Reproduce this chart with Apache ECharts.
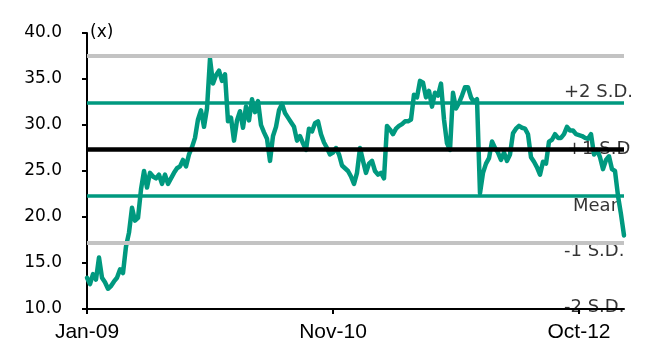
<!DOCTYPE html>
<html>
<head>
<meta charset="utf-8">
<script src="https://cdn.jsdelivr.net/npm/echarts@6/dist/echarts.min.js"></script>
<style>
  html, body { margin: 0; padding: 0; background: #fff; }
  #chart { width: 646px; height: 347px; }
</style>
</head>
<body>
<div id="chart"></div>
<script>
// Forward P/E multiple (x), sampled at regular intervals from Jan-09
const peValues = [
  13.4, 12.7, 13.8, 13.2, 15.6, 13.4, 12.9, 12.2, 12.5, 13.0,
  13.4, 14.3, 13.9, 16.8, 18.3, 21.0, 19.6, 19.9, 23.0, 25.0,
  23.2, 24.8, 24.4, 24.2, 24.6, 23.6, 24.6, 23.6, 24.2, 24.8,
  25.3, 25.5, 26.2, 25.5, 26.8, 27.6, 28.6, 30.6, 31.6, 29.8,
  31.8, 37.2, 34.5, 35.4, 35.9, 34.8, 35.5, 30.4, 30.8, 28.3,
  30.5, 31.5, 29.7, 32.0, 30.5, 32.8, 31.4, 32.6, 30.0, 29.2,
  28.5, 26.1, 28.8, 29.8, 31.6, 32.3, 31.3, 30.8, 30.3, 29.8,
  28.3, 28.8, 28.0, 27.3, 29.6, 29.3, 30.2, 30.4, 29.0, 28.1,
  27.5, 26.8, 27.0, 27.5, 26.8, 25.6, 25.3, 25.0, 24.4, 23.6,
  24.8, 27.5, 26.1, 24.8, 25.8, 26.1, 25.0, 24.6, 24.8, 24.2,
  29.9, 29.5, 29.0, 29.6, 29.9, 30.1, 30.4, 30.4, 30.6, 33.3,
  33.0, 34.8, 34.6, 33.0, 33.7, 32.0, 33.5, 33.2, 34.5, 30.6,
  28.0, 27.3, 33.5, 31.8, 32.4, 33.2, 34.1, 34.1, 33.0, 32.5,
  32.8, 22.6, 24.8, 25.8, 26.4, 28.2, 27.5, 27.0, 26.2, 27.0,
  26.1, 26.8, 29.1, 29.6, 29.9, 29.7, 29.6, 29.0, 26.5, 26.0,
  25.4, 24.6, 26.0, 25.8, 28.2, 28.4, 29.0, 28.6, 28.6, 29.0,
  29.8, 29.4, 29.4, 29.0, 28.9, 28.8, 28.6, 28.5, 29.0, 26.8,
  27.3, 26.5, 25.2, 26.2, 26.6, 25.2, 25.0, 22.3, 20.3, 18.0
];

// Period labels shown on the time axis and the periods they sit on
const xTickLabels = ['Jan-09', 'Nov-10', 'Oct-12'];
const xTickIndex = [0, 82, 164];

// Band levels: mean and standard-deviation lines
const grayLevels = [37.5, 17.2];
const tealLevels = [32.4, 22.3];
const meanLevel = [27.35];

// Band captions and where they are written
const sdNames = ['+2 S.D.', '+1 S.D', 'Mean', '-1 S.D.', '-2 S.D.'];
const sdLabelLevels = [33.6, 27.35, 21.2, 16.3, 10.2];
const sdLabelAt = [159, 160, 162, 159, 159];

const yTicks = { min: 10, max: 40, step: 5 };

const categories = peValues.map((_, i) => String(i));
const tickSet = new Set(xTickIndex);

const TEAL = '#00997f';
const GRAY = '#c3c3c3';

const chart = echarts.init(document.getElementById('chart'), null, { renderer: 'canvas' });

const lineMark = (v, color, width) => ({
  yAxis: v,
  lineStyle: { color: color, width: width, type: 'solid' }
});

chart.setOption({
  animation: false,
  backgroundColor: '#ffffff',
  grid: { left: 87, right: 22, top: 33, bottom: 38, containLabel: false },
  xAxis: {
    type: 'category',
    data: categories,
    boundaryGap: false,
    z: 10,
    axisLine: { lineStyle: { color: '#000', width: 2 } },
    axisTick: {
      show: true,
      length: 5,
      interval: (i) => tickSet.has(i),
      lineStyle: { color: '#000', width: 2 }
    },
    axisLabel: {
      interval: (i) => tickSet.has(i),
      formatter: (v, i) => {
        const k = xTickIndex.indexOf(i);
        return k >= 0 ? xTickLabels[k] : '';
      },
      margin: 13,
      color: '#000',
      fontFamily: 'Liberation Sans',
      fontSize: 21,
      showMinLabel: true,
      showMaxLabel: true,
      hideOverlap: false
    },
    splitLine: { show: false }
  },
  yAxis: {
    type: 'value',
    min: yTicks.min,
    max: yTicks.max,
    interval: yTicks.step,
    name: '(x)',
    nameLocation: 'end',
    nameGap: 0,
    nameTextStyle: {
      align: 'left',
      verticalAlign: 'middle',
      color: '#000',
      fontFamily: 'DejaVu Sans',
      fontSize: 17,
      padding: [3, 0, 0, 3]
    },
    axisLine: { show: true, lineStyle: { color: '#000', width: 2 } },
    axisTick: { show: true, inside: false, length: 5, lineStyle: { color: '#000', width: 2 } },
    axisLabel: {
      formatter: (v) => v.toFixed(1),
      margin: 25,
      color: '#000',
      fontFamily: 'DejaVu Sans',
      fontSize: 17
    },
    splitLine: { show: false }
  },
  series: [
    {
      name: 'Bands',
      type: 'scatter',
      z: 1,
      symbolSize: 0,
      silent: true,
      data: sdNames.map((n, i) => ({ name: n, value: [sdLabelAt[i], sdLabelLevels[i]] })),
      label: {
        show: true,
        position: 'right',
        distance: 0,
        formatter: (p) => p.name,
        color: '#000',
        fontFamily: 'DejaVu Sans',
        fontSize: 18
      }
    },
    {
      name: 'P/E',
      type: 'line',
      z: 3,
      data: peValues,
      showSymbol: false,
      symbol: 'none',
      smooth: false,
      lineStyle: { color: TEAL, width: 4.5, join: 'round', cap: 'round' },
      markLine: {
        silent: true,
        symbol: ['none', 'none'],
        label: { show: false },
        animation: false,
        data: [
          ...grayLevels.map((v) => lineMark(v, GRAY, 4)),
          ...tealLevels.map((v) => lineMark(v, TEAL, 3.5)),
          ...meanLevel.map((v) => lineMark(v, '#000', 4.5))
        ]
      }
    }
  ]
});
</script>
</body>
</html>
